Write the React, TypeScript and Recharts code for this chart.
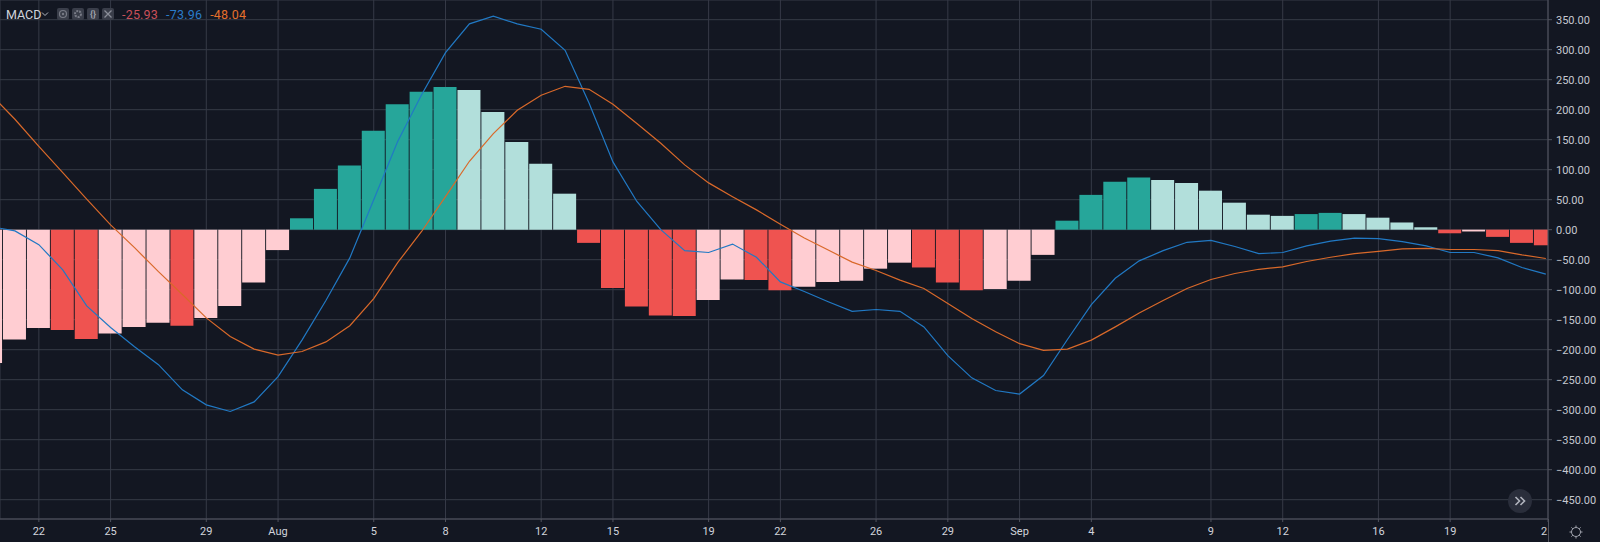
import { ComposedChart, Bar, Line, Cell, XAxis, YAxis, CartesianGrid } from "recharts";

// one entry per session, index 0 is the bar cut off by the left edge
const histValues = [
  -222, -183, -164, -167, -182, -173, -162, -155, -160, -147, -127, -88, -34,
  19, 68, 107, 165, 209, 230, 238, 233, 196, 146, 110, 60,
  -22, -97, -128, -143, -144, -117, -83, -84, -101, -95, -87, -85, -65, -55, -63, -88, -101, -99, -85, -42,
  15, 58, 80, 87, 83, 78, 65, 45, 25, 23, 26, 28, 26, 20, 12, 4,
  -6, -3, -12, -22, -26,
];

const macdValues = [
  5, -2, -25, -67, -127, -163, -195, -225, -267, -292, -303, -287, -245, -184, -118, -47,
  50, 147, 225, 295, 343, 356, 343, 334, 299, 211, 113, 47, 0, -35, -38, -24, -46, -87, -103, -120,
  -136, -133, -136, -162, -210, -247, -268, -274, -243, -183, -125, -81, -52, -35, -21, -18, -28, -40,
  -38, -27, -19, -14, -15, -20, -27, -38, -38, -47, -63, -74,
];

const signalValues = [
  225, 184, 139, 95, 51, 8, -30, -70, -108, -147, -178, -199, -209, -203, -187, -160,
  -115, -55, -3, 55, 114, 160, 199, 224, 239, 234, 209, 177, 144, 108, 78, 55, 33, 9, -14, -34,
  -54, -68, -84, -98, -123, -148, -170, -190, -201, -199, -184, -162, -139, -118, -98, -83, -73, -66,
  -62, -53, -46, -40, -36, -32, -31, -33, -33, -35, -42, -48,
];

const xTicks = [2, 5, 9, 12, 16, 19, 23, 26, 30, 33, 37, 40, 43, 46, 51, 54, 58, 61, 65.09];
const xTickLabels = ["22", "25", "29", "Aug", "5", "8", "12", "15", "19", "22", "26", "29", "Sep", "4", "9", "12", "16", "19", "2"];
const yTicks = [350, 300, 250, 200, 150, 100, 50, 0, -50, -100, -150, -200, -250, -300, -350, -400, -450];

const legendValues = [
  { text: "-25.93", color: "#c9505a" },
  { text: "-73.96", color: "#2a7cc9" },
  { text: "-48.04", color: "#e5702c" },
];

const chartData = histValues.map((hist, i) => ({
  index: i,
  hist,
  macd: macdValues[i],
  signal: signalValues[i],
}));

const FONT = "Roboto, sans-serif";

// same rule the indicator uses: sign of the value + direction vs previous bar
const histColor = (i: number) => {
  const v = histValues[i];
  const prev = i > 0 ? histValues[i - 1] : v - 1;
  if (v >= 0) return v >= prev ? "#26a69a" : "#b2dfdb";
  return v < prev ? "#ef5350" : "#ffcdd2";
};

const XTick = ({ x, y, payload }: any) => {
  const idx = xTicks.indexOf(payload.value);
  const isLast = idx === xTicks.length - 1;
  return (
    <text x={isLast ? x - 4 : x} y={y + 11} textAnchor="middle" fill="#d1d4dc" fontSize={11} fontFamily={FONT}>
      {xTickLabels[idx]}
    </text>
  );
};

const formatY = (v: number) => (v < 0 ? "\u2212" : "") + Math.abs(v).toFixed(2);

const iconBox = { width: 12, height: 12, background: "#3a3e4a", borderRadius: 2, display: "flex", alignItems: "center", justifyContent: "center" } as const;

const Header = () => (
  <div style={{ position: "absolute", left: 6, top: 7, height: 14, display: "flex", alignItems: "center", fontFamily: FONT, fontSize: 12.5 }}>
    <span style={{ color: "#d1d4dc", width: 34 }}>MACD</span>
    <svg width={8} height={6} style={{ marginLeft: 1 }}>
      <path d="M1 1.5 L4 4.5 L7 1.5" fill="none" stroke="#b2b5be" strokeWidth={1} />
    </svg>
    <div style={{ display: "flex", gap: 3, marginLeft: 8 }}>
      <div style={iconBox}>
        <svg width={10} height={10}><circle cx={5} cy={5} r={3.5} fill="none" stroke="#787b86" strokeWidth={1.2} /><circle cx={5} cy={5} r={1.2} fill="#787b86" /></svg>
      </div>
      <div style={iconBox}>
        <svg width={10} height={10}><circle cx={5} cy={5} r={3} fill="none" stroke="#787b86" strokeWidth={2} strokeDasharray="2 1" /></svg>
      </div>
      <div style={{ ...iconBox, color: "#a0a3ad", fontSize: 9, fontWeight: 700 }}>{"{}"}</div>
      <div style={iconBox}>
        <svg width={10} height={10}><path d="M1.5 1.5 L8.5 8.5 M8.5 1.5 L1.5 8.5" stroke="#8a8d98" strokeWidth={1.3} /></svg>
      </div>
    </div>
    <div style={{ display: "flex", gap: 8, marginLeft: 8 }}>
      {legendValues.map((l) => (
        <span key={l.text} style={{ color: l.color, letterSpacing: 0.2 }}>{l.text}</span>
      ))}
    </div>
  </div>
);

const App = () => (
  <div style={{ position: "absolute", left: 0, top: 0, width: 1600, height: 542, background: "#131722", overflow: "hidden" }}>
    <ComposedChart width={1600} height={542} data={chartData} margin={{ top: 0, right: 0, bottom: 0, left: 0 }}>
      <CartesianGrid stroke="#363a47" strokeWidth={1} />
      <XAxis
        dataKey="index"
        type="number"
        domain={[0.376, 65.09]}
        allowDataOverflow
        ticks={xTicks}
        interval={0}
        height={23}
        stroke="#50535e"
        tickSize={3}
        tick={<XTick />}
      />
      <YAxis
        orientation="right"
        domain={[-482.2, 382.8]}
        allowDataOverflow
        ticks={yTicks}
        interval={0}
        width={52}
        stroke="#50535e"
        tickSize={4}
        tickMargin={4}
        tickFormatter={formatY}
        tick={{ fill: "#c5c8d0", fontSize: 11, fontFamily: FONT }}
      />
      <Bar dataKey="hist" barSize={23} isAnimationActive={false}>
        {chartData.map((d) => (
          <Cell key={d.index} fill={histColor(d.index)} />
        ))}
      </Bar>
      <Line dataKey="macd" type="linear" stroke="#2179c4" strokeWidth={1.2} dot={false} isAnimationActive={false} />
      <Line dataKey="signal" type="linear" stroke="#d9692a" strokeWidth={1.2} dot={false} isAnimationActive={false} />
    </ComposedChart>

    <Header />

    {/* axis line carries on through the time scale row */}
    <div style={{ position: "absolute", left: 1548, top: 519, width: 1, height: 23, background: "#50535e" }} />

    <div style={{ position: "absolute", left: 1508, top: 489, width: 24, height: 24, borderRadius: 12, background: "#2a2e3b", display: "flex", alignItems: "center", justifyContent: "center" }}>
      <svg width={12} height={10}>
        <path d="M1.5 1 L5.5 5 L1.5 9 M6.5 1 L10.5 5 L6.5 9" fill="none" stroke="#b2b5be" strokeWidth={1.6} />
      </svg>
    </div>

    <svg style={{ position: "absolute", left: 1568, top: 524 }} width={16} height={16}>
      <circle cx={8} cy={8} r={4.5} fill="none" stroke="#a0a3ad" strokeWidth={1} />
      <path d="M8 1.5 V3.5 M8 12.5 V14.5 M1.5 8 H3.5 M12.5 8 H14.5 M3.4 3.4 L4.8 4.8 M11.2 11.2 L12.6 12.6 M12.6 3.4 L11.2 4.8 M4.8 11.2 L3.4 12.6" stroke="#a0a3ad" strokeWidth={1} />
    </svg>
  </div>
);

export default App;
